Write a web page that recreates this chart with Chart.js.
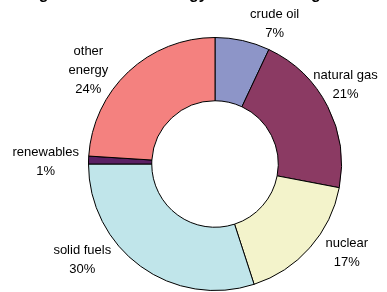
<!DOCTYPE html>
<html>
<head>
<meta charset="utf-8">
<script src="https://cdn.jsdelivr.net/npm/chart.js@4"></script>
<style>
  html, body { margin: 0; padding: 0; background: #fff; }
  #wrap { width: 387px; height: 292px; position: relative; }
</style>
</head>
<body>
<div id="wrap"><canvas id="energy-chart"></canvas></div>
<script>
// Data
const categories = ['crude oil', 'natural gas', 'nuclear', 'solid fuels', 'renewables', 'other energy'];
const labelLines = [['crude oil'], ['natural gas'], ['nuclear'], ['solid fuels'], ['renewables'], ['other', 'energy']];
const shares = [7, 21, 17, 30, 1, 24];
const titleText = 'Figure 1: Overall energy shares among fuels';

// Styles
const sliceColors = ['#8d95c8', '#8b3a63', '#f3f3cb', '#c0e5ea', '#5b2064', '#f4817f'];
const labelFont = '13px "Liberation Sans", Arial, sans-serif';
// small nudges so labels sit where the original put them
const labelNudge = [[26, 11], [-7, -9], [16, -13], [-42, -29], [-15, 3], [-21, 19]];

// Title is mostly cut off in the original, only descenders show
const clippedTitle = {
    id: 'clippedTitle',
    afterDraw(chart) {
        const ctx = chart.ctx;
        ctx.save();
        ctx.font = 'bold 16px "Liberation Sans", Arial, sans-serif';
        ctx.fillStyle = '#000';
        ctx.textAlign = 'center';
        ctx.textBaseline = 'alphabetic';
        ctx.fillText(titleText, chart.width / 2, -1);
        ctx.restore();
    }
};

// Outside labels: name + percentage
const sliceLabels = {
    id: 'sliceLabels',
    afterDatasetsDraw(chart) {
        const ctx = chart.ctx;
        const meta = chart.getDatasetMeta(0);
        ctx.save();
        ctx.font = labelFont;
        ctx.fillStyle = '#000';
        ctx.textAlign = 'center';
        ctx.textBaseline = 'middle';
        meta.data.forEach((arc, i) => {
            const p = arc.getProps(['x', 'y', 'startAngle', 'endAngle', 'outerRadius'], true);
            const mid = (p.startAngle + p.endAngle) / 2;
            const r = p.outerRadius * 1.22;
            const cx = p.x + Math.cos(mid) * r + labelNudge[i][0];
            const cy = p.y + Math.sin(mid) * r + labelNudge[i][1];
            const lines = labelLines[i].concat([shares[i] + '%']);
            const lh = 19;
            const top = cy - (lines.length - 1) * lh / 2;
            lines.forEach((t, j) => ctx.fillText(t, cx, top + j * lh));
        });
        ctx.restore();
    }
};

new Chart(document.getElementById('energy-chart'), {
    type: 'doughnut',
    data: {
        labels: categories,
        datasets: [{
            data: shares,
            backgroundColor: sliceColors,
            borderColor: '#000',
            borderWidth: 1
        }]
    },
    options: {
        responsive: true,
        maintainAspectRatio: false,
        animation: false,
        cutout: '50%',
        layout: { padding: { top: 37, bottom: 1, left: 88, right: 45 } },
        plugins: {
            legend: { display: false },
            tooltip: { enabled: false },
            title: { display: false }
        }
    },
    plugins: [sliceLabels, clippedTitle]
});
</script>
</body>
</html>
